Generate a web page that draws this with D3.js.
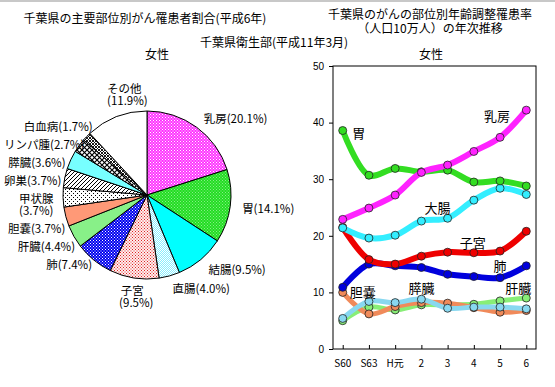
<!DOCTYPE html>
<html>
<head>
<meta charset="utf-8">
<script src="https://cdn.jsdelivr.net/npm/d3@7"></script>
<style>
  body { margin: 0; background: #fff; }
  svg { display: block; font-family: "Noto Sans CJK JP", "Noto Sans", sans-serif; }
</style>
</head>
<body>
<div id="vis"></div>
<script>
var width = 555,
    height = 387;

// pie data (平成6年, 女性)
var pieNames = ["乳房", "胃", "結腸", "直腸", "子宮", "肺", "肝臓", "胆嚢", "甲状腺", "卵巣", "膵臓", "リンパ腫", "白血病", "その他"];
var pieValues = [20.1, 14.1, 9.5, 4.0, 9.5, 7.4, 4.4, 3.7, 3.7, 3.7, 3.6, 2.7, 1.7, 11.9];
var pieTwoLine = ["子宮", "甲状腺", "その他"];

// line data
var years = ["S60", "S63", "H元", "2", "3", "4", "5", "6"];
var seriesNames = ["肝臓", "胆嚢", "膵臓", "肺", "子宮", "大腸", "胃", "乳房"];
var liver   = [5.0, 7.4, 6.9, 7.8, 7.8, 7.9, 8.5, 9.0];
var gall    = [10.0, 6.2, 7.5, 8.2, 8.1, 7.3, 6.5, 6.8];
var pancreas= [5.4, 8.4, 8.2, 8.8, 7.2, 7.4, 7.4, 7.1];
var lung    = [10.9, 15.0, 14.7, 14.4, 13.2, 12.8, 12.6, 14.7];
var uterus  = [21.5, 15.8, 15.0, 16.4, 17.1, 17.0, 17.3, 20.8];
var colon   = [21.4, 19.6, 20.1, 22.6, 23.1, 26.3, 28.4, 27.3];
var stomach = [38.6, 30.7, 31.9, 31.3, 31.6, 29.5, 29.7, 28.8];
var breast  = [22.9, 24.9, 27.2, 31.2, 32.5, 34.9, 37.4, 42.2];
var yTicks = [0, 10, 20, 30, 40, 50];

var svg = d3.select("#vis").append("svg")
    .attr("width", width)
    .attr("height", height);

svg.append("rect").attr("x", 0).attr("y", 0).attr("width", width).attr("height", 2).attr("fill", "#c8c8c8");

// ---------- patterns ----------
var defs = svg.append("defs");

function dotPattern(id, bg, dot, size) {
    var p = defs.append("pattern").attr("id", id).attr("patternUnits", "userSpaceOnUse")
        .attr("width", size).attr("height", size);
    p.append("rect").attr("width", size).attr("height", size).attr("fill", bg);
    p.append("rect").attr("width", 1).attr("height", 1).attr("fill", dot);
    p.append("rect").attr("x", size / 2).attr("y", size / 2).attr("width", 1).attr("height", 1).attr("fill", dot);
}
dotPattern("p-breast", "#ff33ff", "#ffffff", 3);
dotPattern("p-stomach", "#22dd22", "#88ee88", 3);
dotPattern("p-rectum", "#88eeff", "#ffffff", 2);
dotPattern("p-uterus", "#ffeeee", "#dd2222", 3);
dotPattern("p-lung", "#0000ee", "#ffffff", 3);
dotPattern("p-thyroid", "#ffffff", "#000000", 4);

var hatch = defs.append("pattern").attr("id", "p-ovary").attr("patternUnits", "userSpaceOnUse")
    .attr("width", 4).attr("height", 4);
hatch.append("rect").attr("width", 4).attr("height", 4).attr("fill", "#fff");
hatch.append("path").attr("d", "M0,4L4,0M-1,1L1,-1M3,5L5,3").attr("stroke", "#000").attr("stroke-width", 1);

var cross = defs.append("pattern").attr("id", "p-lymph").attr("patternUnits", "userSpaceOnUse")
    .attr("width", 5).attr("height", 5);
cross.append("rect").attr("width", 5).attr("height", 5).attr("fill", "#fff");
cross.append("path").attr("d", "M0,0L5,5M0,5L5,0").attr("stroke", "#000").attr("stroke-width", 1.2);

var cross2 = defs.append("pattern").attr("id", "p-leuk").attr("patternUnits", "userSpaceOnUse")
    .attr("width", 3).attr("height", 3);
cross2.append("rect").attr("width", 3).attr("height", 3).attr("fill", "#fff");
cross2.append("path").attr("d", "M0,0L3,3M0,3L3,0").attr("stroke", "#000").attr("stroke-width", 0.9);

var pieFills = ["url(#p-breast)", "url(#p-stomach)", "#00ffff", "url(#p-rectum)", "url(#p-uterus)",
    "url(#p-lung)", "#88f088", "#ff9977", "url(#p-thyroid)", "url(#p-ovary)", "#77ffff",
    "url(#p-lymph)", "url(#p-leuk)", "#ffffff"];

// ---------- titles ----------
function text(x, y, s, anchor, size) {
    return svg.append("text").attr("x", x).attr("y", y).attr("text-anchor", anchor || "start")
        .attr("dominant-baseline", "central").attr("font-size", size || 12).attr("fill", "#000").text(s);
}
text(145, 17, "千葉県の主要部位別がん罹患者割合(平成6年)", "middle");
text(200, 41, "千葉県衛生部(平成11年3月)", "start");
text(157, 53, "女性", "middle");
text(430, 13, "千葉県のがんの部位別年齢調整罹患率", "middle");
text(430, 27, "（人口10万人）の年次推移", "middle");
text(431, 53, "女性", "middle");

// ---------- pie ----------
var cx = 147, cy = 195, r = 84, fs = 11.5;
var pie = d3.pie().sort(null).value(function(d) { return d; });
var arcs = pie(pieValues);
var arc = d3.arc().innerRadius(0).outerRadius(r);

var pg = svg.append("g").attr("transform", "translate(" + cx + "," + cy + ")");
pg.selectAll("path").data(arcs).enter().append("path")
    .attr("d", arc)
    .attr("fill", function(d, i) { return pieFills[i]; })
    .attr("stroke", "#000")
    .attr("stroke-width", 1);

// label layout: place on a ring, then push left-side labels apart vertically
var labels = arcs.map(function(d, i) {
    var a = (d.startAngle + d.endAngle) / 2,
        s = Math.sin(a), c = -Math.cos(a),
        anchor = s > 0.2 ? "start" : (s < -0.2 ? "end" : "middle"),
        lr = anchor === "end" ? r + 4 : r + 12;
    return {i: i, s: s, c: c, anchor: anchor, lr: lr,
            x: cx + lr * s, y: cy + lr * c,
            two: pieTwoLine.indexOf(pieNames[i]) >= 0};
});
var leftSide = labels.filter(function(l) { return l.anchor === "end"; })
    .sort(function(a, b) { return a.y - b.y; });
for (var it = 0; it < 60; it++) {
    for (var k = 0; k < leftSide.length - 1; k++) {
        var a = leftSide[k], b = leftSide[k + 1],
            need = 18 + (a.two ? 12 : 0),
            gap = b.y - a.y;
        if (gap < need) {
            a.y -= (need - gap) / 2;
            b.y += (need - gap) / 2;
        }
    }
}
leftSide.forEach(function(l) {
    var dy = l.y - cy, rr = l.lr;
    l.x = Math.abs(dy) < rr ? cx - Math.sqrt(rr * rr - dy * dy) : cx;
    if (l.two) l.x -= 6;
});

var pieLabelG = svg.append("g");
labels.forEach(function(l) {
    var i = l.i,
        pct = "(" + pieValues[i].toFixed(1) + "%)";
    if (l.two) {
        var dy = l.c > 0 ? 0 : -8;
        var anc = l.anchor === "end" ? "start" : l.anchor;
        var xx = l.anchor === "end" ? l.x - 34 : l.x;
        text(xx, l.y + dy, pieNames[i], anc, fs);
        text(xx + (anc === "middle" ? 4 : 0), l.y + dy + 12, pct, anc, fs);
    } else {
        var t = text(l.x, l.y, pieNames[i] + pct, l.anchor, fs);
        var bb = t.node().getBBox();
        if (bb.x < 4) t.attr("x", l.x + (4 - bb.x));
    }
});

// ---------- line chart ----------
var pLeft = 333, pRight = 536, pTop = 66, pBottom = 349;
var x = d3.scalePoint().domain(years).range([pLeft, pRight]).padding(0.37);
var y = d3.scaleLinear().domain([0, 50]).range([pBottom, pTop]);

svg.append("rect").attr("x", pLeft).attr("y", pTop).attr("width", pRight - pLeft).attr("height", pBottom - pTop)
    .attr("fill", "none").attr("stroke", "#000").attr("stroke-width", 1);

var yAxis = d3.axisLeft(y).tickValues(yTicks).tickSize(4).tickPadding(5);
svg.append("g").attr("transform", "translate(" + pLeft + ",0)").call(yAxis)
    .call(function(g) { g.select(".domain").remove(); })
    .selectAll("text").attr("font-size", 10).attr("font-family", "Liberation Sans, Arial, sans-serif");

var xAxis = d3.axisTop(x).tickSize(4).tickFormat("");
svg.append("g").attr("transform", "translate(0," + pBottom + ")").call(xAxis)
    .call(function(g) { g.select(".domain").remove(); });
svg.selectAll(".xlab").data(years).enter().append("text")
    .attr("x", function(d) { return x(d); })
    .attr("y", pBottom + 13)
    .attr("text-anchor", "middle")
    .attr("dominant-baseline", "central")
    .attr("font-size", 10)
    .text(function(d) { return d; });

var series = [liver, gall, pancreas, lung, uterus, colon, stomach, breast];
var colors = ["#88ee77", "#f08a5a", "#88d8f0", "#0000dd", "#ee0000", "#33eeff", "#33dd22", "#ff22ff"];
var widths = [5, 5, 5, 6, 6, 6, 6, 6];

var line = d3.line()
    .x(function(d, i) { return x(years[i]); })
    .y(function(d) { return y(d); })
    .curve(d3.curveCatmullRom.alpha(0.5));

series.forEach(function(vals, k) {
    var g = svg.append("g");
    g.append("path").attr("d", line(vals)).attr("fill", "none")
        .attr("stroke", colors[k]).attr("stroke-width", widths[k])
        .attr("stroke-linejoin", "round").attr("stroke-linecap", "round");
    g.selectAll("circle").data(vals).enter().append("circle")
        .attr("cx", function(d, i) { return x(years[i]); })
        .attr("cy", function(d) { return y(d); })
        .attr("r", 4)
        .attr("fill", colors[k])
        .attr("stroke", "#222")
        .attr("stroke-width", 0.8);
});

// series labels
var lab = svg.append("g").attr("font-size", 13);
function slab(xx, yy, s) {
    lab.append("text").attr("x", xx).attr("y", yy).attr("text-anchor", "middle")
        .attr("dominant-baseline", "central").text(s);
}
slab(x("5") - 3, y(41.3), "乳房");
slab(x("S60") + 16, y(38.3), "胃");
slab(x("2") + 16, y(25.0), "大腸");
slab(x("4") - 1, y(18.8), "子宮");
slab(x("5"), y(14.7), "肺");
slab(x("S60") + 20, y(10.2), "胆嚢");
slab(x("2") - 0, y(10.8), "膵臓");
slab(x("6") - 8, y(10.8), "肝臓");
</script>
</body>
</html>
